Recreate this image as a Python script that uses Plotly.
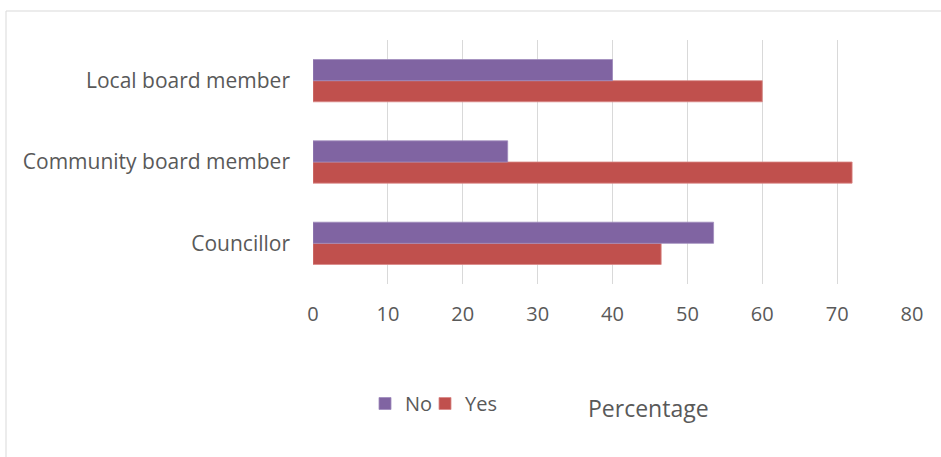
import plotly.graph_objects as go

# Survey responses by role (percent)
categories = ["Councillor", "Community board member", "Local board member"]
yes_values = [46.5, 72, 60]
no_values = [53.5, 26, 40]
x_ticks = [0, 10, 20, 30, 40, 50, 60, 70, 80]

FONT = "Open Sans, Lato, sans-serif"
TEXT = "#595959"

fig = go.Figure()
fig.add_trace(go.Bar(
    y=categories, x=yes_values, name="Yes", orientation="h", legend="legend2",
    marker=dict(color="#C0504D", line=dict(color="#D98886", width=0.8)),
))
fig.add_trace(go.Bar(
    y=categories, x=no_values, name="No", orientation="h", legend="legend",
    marker=dict(color="#8064A2", line=dict(color="#A08BBD", width=0.8)),
))

W, H = 941, 457
L, R, T, B = 313, 29, 40, 173
pw, ph = W - L - R, H - T - B

def px_x(p):
    return (p - L) / pw

def px_y(p):
    return (H - B - p) / ph

legend_style = dict(
    orientation="h", yanchor="top", xanchor="left", y=px_y(384),
    font=dict(family=FONT, size=20, color=TEXT),
    itemwidth=30, bgcolor="rgba(0,0,0,0)",
)

fig.update_layout(
    width=W, height=H,
    margin=dict(l=L, r=R, t=T, b=B, pad=0),
    paper_bgcolor="white", plot_bgcolor="white",
    barmode="group", bargap=0.48, bargroupgap=0,
    font=dict(family=FONT, size=21, color=TEXT),
    showlegend=True,
    legend=dict(x=px_x(365), **legend_style),
    legend2=dict(x=px_x(425), **legend_style),
    xaxis=dict(
        range=[0, 80], tickmode="array", tickvals=x_ticks,
        ticktext=[str(v) for v in x_ticks],
        showgrid=True, gridcolor="#D9D9D9", gridwidth=1,
        zeroline=False, showline=False, ticks="",
        tickfont=dict(family=FONT, size=20, color=TEXT),
        ticklabelstandoff=16, fixedrange=True,
    ),
    yaxis=dict(
        categoryorder="array", categoryarray=categories,
        showgrid=False, zeroline=False, showline=False, ticks="",
        tickfont=dict(family=FONT, size=21, color=TEXT),
        ticklabelstandoff=22, fixedrange=True,
    ),
    annotations=[dict(
        text="Percentage", xref="paper", yref="paper",
        x=px_x(648), y=px_y(408), xanchor="center", yanchor="middle",
        showarrow=False, font=dict(family=FONT, size=23, color=TEXT),
    )],
    shapes=[dict(
        type="rect", xref="paper", yref="paper",
        x0=px_x(6), x1=px_x(950), y0=px_y(470), y1=px_y(11),
        line=dict(color="#D9D9D9", width=1), fillcolor="rgba(0,0,0,0)",
        layer="below",
    )],
)

fig.write_html("out.html")
